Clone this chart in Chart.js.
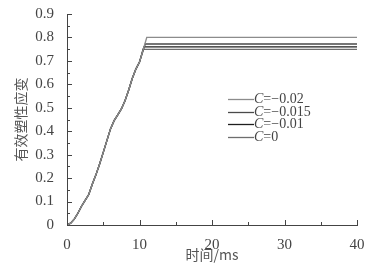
<!DOCTYPE html>
<html>
<head>
<meta charset="utf-8">
<script src="https://cdn.jsdelivr.net/npm/chart.js@4.4.1/dist/chart.umd.min.js"></script>
<style>
  html, body { margin: 0; padding: 0; background: #fff; }
  #wrap { width: 372px; height: 268px; }
</style>
</head>
<body>
<div id="wrap"><canvas id="chart" width="372" height="268"></canvas></div>
<script>
// shared rising part (ms, strain)
const riseTime = [0, 0.5, 1, 1.5, 2, 2.5, 3, 3.5, 4, 4.5, 5, 5.5, 6, 6.5, 7, 7.5, 8, 8.5, 9, 9.5, 10];
const riseStrain = [0, 0.008, 0.025, 0.05, 0.08, 0.105, 0.13, 0.175, 0.215, 0.26, 0.31, 0.36, 0.41, 0.445, 0.47, 0.495, 0.53, 0.575, 0.625, 0.665, 0.695];

const cLabels = ['-0.02', '-0.015', '-0.01', '0'];
const peakTime = [11, 10.8, 10.6, 10.5];
const plateau = [0.80, 0.772, 0.760, 0.749];
const endTime = 40;
const lineColors = ['#8c8c8c', '#4a4a4a', '#1e1e1e', '#6e6e6e'];

const xTicks = [0, 10, 20, 30, 40];
const yTicks = [0, 0.1, 0.2, 0.3, 0.4, 0.5, 0.6, 0.7, 0.8, 0.9];

const serif = '"Liberation Serif", "DejaVu Serif", serif';

const datasets = cLabels.map((c, i) => {
    const pts = riseTime.map((t, k) => ({ x: t, y: riseStrain[k] }));
    pts.push({ x: peakTime[i], y: plateau[i] });
    pts.push({ x: endTime, y: plateau[i] });
    return {
        label: 'C=' + c,
        data: pts,
        borderColor: lineColors[i],
        borderWidth: 1.3,
        pointRadius: 0,
        tension: 0,
        fill: false
    };
});

// inward ticks, major and minor, drawn from the scales
const innerTicks = {
    id: 'innerTicks',
    afterDraw(chart) {
        const ctx = chart.ctx;
        const xs = chart.scales.x, ys = chart.scales.y;
        const a = chart.chartArea;
        ctx.save();
        ctx.strokeStyle = '#444';
        ctx.lineWidth = 1;
        ctx.beginPath();
        for (let v = 0; v <= 40; v += 5) {
            const px = Math.round(xs.getPixelForValue(v)) + 0.5;
            const len = v % 10 === 0 ? 5 : 3;
            ctx.moveTo(px, a.bottom);
            ctx.lineTo(px, a.bottom - len);
        }
        for (let k = 0; k <= 18; k++) {
            const py = Math.round(ys.getPixelForValue(k * 0.05)) + 0.5;
            const len = k % 2 === 0 ? 5 : 3;
            ctx.moveTo(a.left, py);
            ctx.lineTo(a.left + len, py);
        }
        ctx.stroke();
        ctx.restore();
    }
};

// legend inside the plot
const curveLegend = {
    id: 'curveLegend',
    afterDraw(chart) {
        const ctx = chart.ctx;
        const x0 = 228, y0 = 99, step = 12.5;
        ctx.save();
        ctx.textBaseline = 'middle';
        cLabels.forEach((c, i) => {
            const y = Math.round(y0 + i * step) + 0.5;
            ctx.strokeStyle = lineColors[i];
            ctx.lineWidth = 1.3;
            ctx.beginPath();
            ctx.moveTo(x0, y);
            ctx.lineTo(x0 + 26, y);
            ctx.stroke();
            ctx.fillStyle = '#444';
            ctx.font = 'italic 14px ' + serif;
            ctx.fillText('C', x0 + 26, y);
            const w = ctx.measureText('C').width;
            ctx.font = '14px ' + serif;
            ctx.fillText('=' + c.replace('-', '\u2212'), x0 + 26 + w, y);
        });
        ctx.restore();
    }
};

new Chart(document.getElementById('chart'), {
    type: 'line',
    data: { datasets },
    options: {
        responsive: false,
        animation: false,
        layout: { padding: { top: 9, right: 15, left: 0, bottom: 0 } },
        plugins: { legend: { display: false }, tooltip: { enabled: false } },
        scales: {
            x: {
                type: 'linear',
                min: 0, max: 40,
                afterBuildTicks: s => { s.ticks = xTicks.map(v => ({ value: v })); },
                afterFit: s => { s.height = 43; },
                grid: { display: false },
                border: { display: true, color: '#444', width: 1 },
                ticks: {
                    color: '#444',
                    padding: 3,
                    maxRotation: 0,
                    font: { family: serif, size: 15 }
                },
                title: {
                    display: true,
                    text: '时间/ms',
                    color: '#555',
                    padding: { top: 0, bottom: 5 },
                    font: { family: '"Noto Sans CJK SC"', size: 14 }
                }
            },
            y: {
                min: 0, max: 0.9,
                afterBuildTicks: s => { s.ticks = yTicks.map(v => ({ value: v })); },
                afterFit: s => { s.width = 67; },
                grid: { display: false },
                border: { display: true, color: '#444', width: 1 },
                ticks: {
                    color: '#444',
                    padding: 5,
                    font: { family: serif, size: 15 },
                    callback: v => String(Math.round(v * 10) / 10)
                },
                title: {
                    display: true,
                    text: '有效塑性应变',
                    color: '#555',
                    padding: { top: 12, bottom: 0 },
                    font: { family: '"Noto Sans CJK SC"', size: 14 }
                }
            }
        }
    },
    plugins: [innerTicks, curveLegend]
});
</script>
</body>
</html>
